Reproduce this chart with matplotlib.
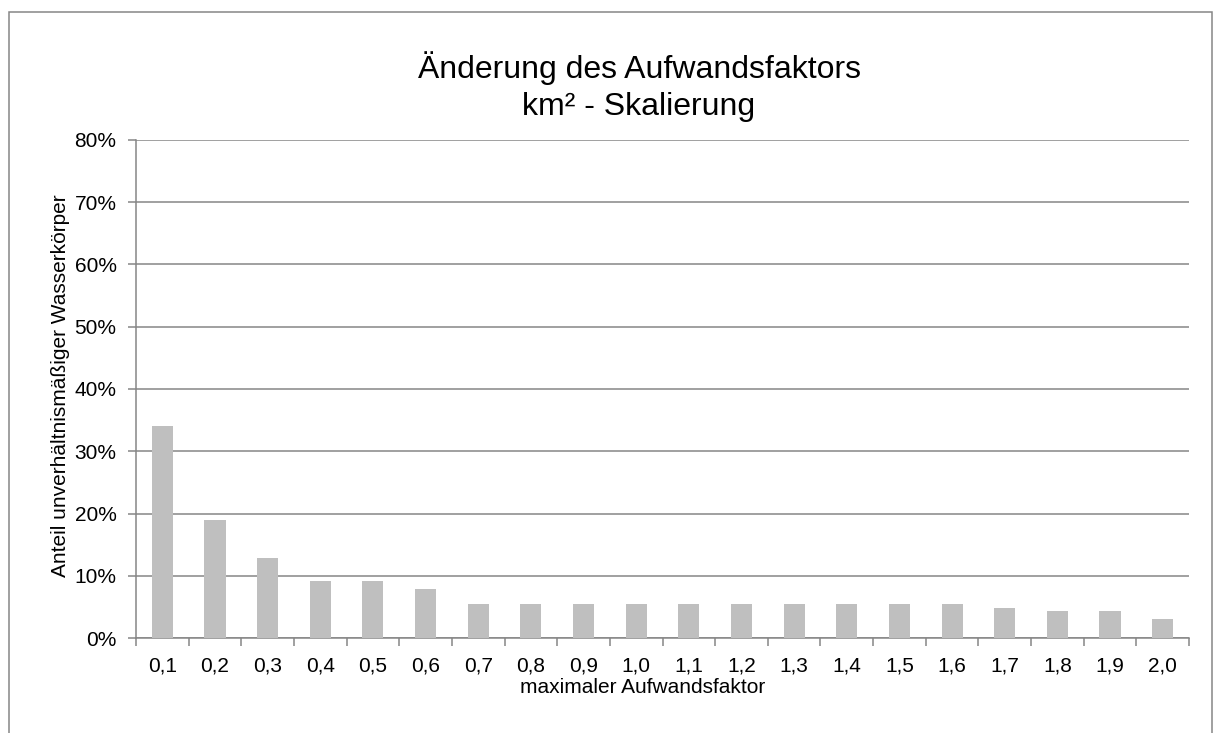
import numpy as np
import matplotlib.pyplot as plt
from matplotlib.patches import Rectangle
from matplotlib.ticker import FixedLocator, PercentFormatter

plt.rcParams['font.family'] = ['Liberation Sans', 'DejaVu Sans']

# data
faktoren = ["0,1", "0,2", "0,3", "0,4", "0,5", "0,6", "0,7", "0,8", "0,9", "1,0",
            "1,1", "1,2", "1,3", "1,4", "1,5", "1,6", "1,7", "1,8", "1,9", "2,0"]
anteil = [34.1, 18.9, 12.8, 9.15, 9.15, 7.93, 5.49, 5.49, 5.49, 5.49,
          5.49, 5.49, 5.49, 5.49, 5.49, 5.49, 4.88, 4.27, 4.27, 3.05]

W, H = 1214, 733
fig = plt.figure(figsize=(W / 100, H / 100), dpi=100)
x0, x1, y0, y1 = 136, 1189, 638, 140
ax = fig.add_axes([x0 / W, (H - y0) / H, (x1 - x0) / W, (y0 - y1) / H])

grey = "#868686"
x = np.arange(len(faktoren))
ax.bar(x, anteil, width=0.4, color="#BFBFBF", zorder=3)

ax.set_xlim(-0.5, len(faktoren) - 0.5)
ax.set_ylim(0, 80)
ax.set_yticks(np.arange(0, 81, 10))
ax.yaxis.set_major_formatter(PercentFormatter(decimals=0))
ax.yaxis.grid(True, color=grey, linewidth=1.1, zorder=0)

ax.xaxis.set_major_locator(FixedLocator(np.arange(-0.5, len(faktoren), 1)))
ax.xaxis.set_minor_locator(FixedLocator(x))
ax.set_xticklabels([], minor=False)
ax.set_xticklabels(faktoren, minor=True)
ax.tick_params(axis="x", which="major", length=6, width=1.1, color=grey)
ax.tick_params(axis="x", which="minor", length=0, pad=13, labelsize=15)
ax.tick_params(axis="y", length=6, width=1.1, color=grey, pad=8, labelsize=15)

for s in ["top", "right"]:
    ax.spines[s].set_visible(False)
for s in ["left", "bottom"]:
    ax.spines[s].set_color(grey)
    ax.spines[s].set_linewidth(1.1)

ax.set_xlabel("maximaler Aufwandsfaktor", fontsize=15, va="baseline")
ax.xaxis.set_label_coords((643 - x0) / (x1 - x0), (y0 - 693) / (y0 - y1))
ax.set_ylabel("Anteil unverhältnismäßiger Wasserkörper", fontsize=15,
              va="center", ha="center")
ax.yaxis.set_label_coords((61 - x0) / (x1 - x0), (y0 - 386) / (y0 - y1))

fig.text(639 / W, 1 - 78 / H, "Änderung des Aufwandsfaktors",
         ha="center", va="baseline", fontsize=23)
fig.text(639 / W, 1 - 115 / H, "km² - Skalierung",
         ha="center", va="baseline", fontsize=23)

# chart frame
fig.patches.append(Rectangle((9 / W, -0.05), (1212 - 9) / W, 1.05 - 12 / H,
                             transform=fig.transFigure, fill=False,
                             edgecolor=grey, linewidth=1.1, clip_on=False))

fig.savefig("out.png", dpi=100)
